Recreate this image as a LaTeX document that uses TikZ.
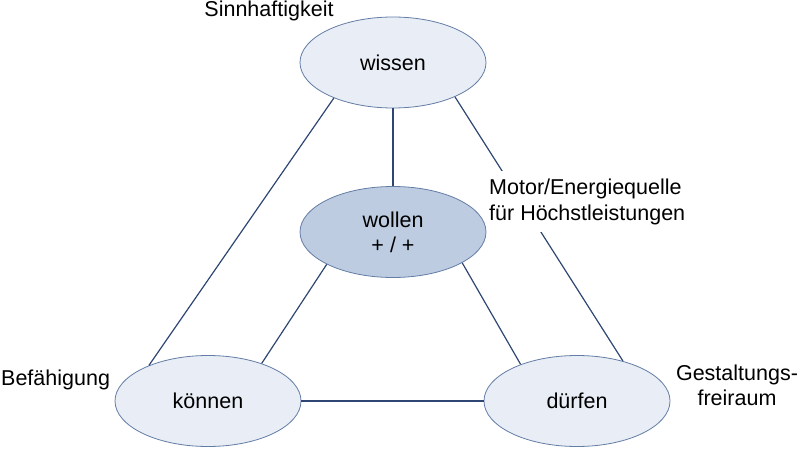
\documentclass[tikz,border=0pt]{standalone}
\usepackage{fontspec}
\setmainfont{Liberation Sans}
\usetikzlibrary{shapes.geometric}
\definecolor{lightfill}{RGB}{232,237,246}
\definecolor{midfill}{RGB}{189,204,225}
\definecolor{edgecol}{RGB}{100,125,165}
\definecolor{linecol}{RGB}{45,70,115}
\begin{document}
\begin{tikzpicture}[x=1pt,y=-1pt, font=\fontsize{21.5}{25}\selectfont,
  bub/.style={ellipse, draw=edgecol, line width=0.8pt, fill=lightfill,
    minimum width=186pt, minimum height=91pt, inner sep=0pt, align=center},
  conn/.style={draw=linecol, line width=1.2pt},
  lbl/.style={inner sep=0pt, text=black}]
\useasboundingbox (0,0) rectangle (800,449);
\node[bub] (wissen) at (393,62.5) {wissen};
\node[bub, fill=midfill] (wollen) at (393,232) {wollen\\+ / +};
\node[bub] (koennen) at (208,401) {können};
\node[bub] (duerfen) at (577,401) {dürfen};
\draw[conn] (wissen.211) -- (koennen.149.5);
\draw[conn] (wissen.south) -- (wollen.north);
\draw[conn] (wissen.331) -- (duerfen.41.7);
\draw[conn] (wollen.206) -- (koennen.35);
\draw[conn] (wollen.336) -- (duerfen.147);
\draw[conn] (koennen.east) -- (duerfen.west);
\node[lbl, fill=white, inner xsep=1pt, inner ysep=8pt, align=left, anchor=base west] (motor) at (488,220) {Motor/Energiequelle\\für Höchstleistungen};
\node[lbl, anchor=base] (sinn) at (269,17) {Sinnhaftigkeit};
\node[lbl, anchor=base west] (bef) at (1,385) {Befähigung};
\node[lbl, align=center, anchor=base] (gest) at (737,405) {Gestaltungs-\\freiraum};
\end{tikzpicture}
\end{document}
